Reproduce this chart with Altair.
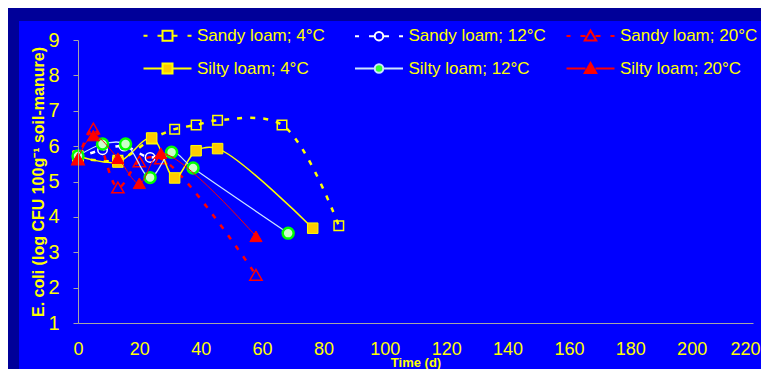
import altair as alt
import pandas as pd

# ---------------- data ----------------
SERIES = ["Sandy loam; 4°C", "Sandy loam; 12°C", "Sandy loam; 20°C",
          "Silty loam; 4°C", "Silty loam; 12°C", "Silty loam; 20°C"]

sandy4_d = [0, 13, 24, 31.5, 38.5, 45.5, 66.5, 85]
sandy4_v = [5.68, 5.6, 6.2, 6.48, 6.6, 6.73, 6.6, 3.75]
sandy12_d = [0, 8, 15, 23.5, 30.5]
sandy12_v = [5.68, 5.9, 6.0, 5.68, 5.85]
sandy20_d = [0, 5, 13, 20, 27, 58]
sandy20_v = [5.62, 6.5, 4.83, 5.57, 5.65, 2.36]
silty4_d = [0, 13, 24, 31.5, 38.5, 45.5, 76.5]
silty4_v = [5.72, 5.55, 6.23, 5.1, 5.87, 5.93, 3.68]
silty12_d = [0, 8, 15.5, 23.5, 30.5, 37.5, 68.5]
silty12_v = [5.72, 6.06, 6.06, 5.11, 5.83, 5.38, 3.54]
silty20_d = [0, 5, 13, 20, 27, 58]
silty20_v = [5.66, 6.3, 5.66, 4.95, 5.8, 3.45]

X_TICKS = [0, 20, 40, 60, 80, 100, 120, 140, 160, 180, 200, 220]
Y_TICKS = [1, 2, 3, 4, 5, 6, 7, 8, 9]

DAYS = [sandy4_d, sandy12_d, sandy20_d, silty4_d, silty12_d, silty20_d]
VALS = [sandy4_v, sandy12_v, sandy20_v, silty4_v, silty12_v, silty20_v]

rows = []
for s, ds, vs in zip(SERIES, DAYS, VALS):
    for d, v in zip(ds, vs):
        rows.append({"series": s, "day": d, "cfu": v})
df = pd.DataFrame(rows)

# ---------------- styles ----------------
YEL = "#FFFF00"
W, H = 675, 283

STYLE = {
    "Sandy loam; 4°C": dict(lc=YEL, lw=2.5, dash=[5, 8], shape="square", size=90,
                            filled=False, fill=None, stroke=YEL, sw=1.5),
    "Sandy loam; 12°C": dict(lc="#FFFFFF", lw=2.5, dash=[5, 8], shape="circle", size=90,
                             filled=False, fill=None, stroke="#FFFFFF", sw=1.5),
    "Sandy loam; 20°C": dict(lc="#FF0000", lw=2.5, dash=[5, 8], shape="triangle-up", size=150,
                             filled=False, fill=None, stroke="#FF0000", sw=1.5),
    "Silty loam; 4°C": dict(lc=YEL, lw=1.5, dash=None, shape="square", size=110,
                            filled=True, fill="#FFCC00", stroke=YEL, sw=1),
    "Silty loam; 12°C": dict(lc="#CCE5FF", lw=1.2, dash=None, shape="circle", size=120,
                             filled=True, fill="#CCFFCC", stroke="#00FF00", sw=2.5),
    "Silty loam; 20°C": dict(lc="#FF0000", lw=1, dash=None, shape="triangle-up", size=150,
                             filled=True, fill="#FF0000", stroke="#FF0000", sw=1),
}

x_enc = alt.X("day:Q",
              scale=alt.Scale(domain=[0, 220], nice=False, zero=False),
              axis=alt.Axis(values=X_TICKS, title="Time (d)", grid=False, ticks=False,
                            domainColor="#A6A6A6", labelColor=YEL, labelFontSize=18,
                            labelFont="Liberation Sans", labelPadding=17, labelFlush=False,
                            labelOffset=alt.expr("datum.value == 220 ? -8 : 0"),
                            titleColor=YEL, titleFont="Liberation Sans", titleFontSize=13,
                            titleFontWeight="bold", titleY=43, titleBaseline="alphabetic",
                            zindex=1))
y_enc = alt.Y("cfu:Q",
              scale=alt.Scale(domain=[1, 9], nice=False, zero=False),
              axis=alt.Axis(values=Y_TICKS, title="E. coli (log CFU 100g⁻¹ soil-manure)",
                            grid=False, domainColor="#A6A6A6", tickColor="#A6A6A6",
                            tickSize=5, labelColor=YEL, labelFontSize=20,
                            labelFont="Liberation Sans", labelPadding=14,
                            titleColor=YEL, titleFont="Liberation Sans", titleFontSize=16,
                            titleFontWeight="bold", titleX=-40, titleY=H / 2,
                            titleAlign="center", titleBaseline="middle", titleAngle=270,
                            zindex=1))

layers = []

bg = alt.Chart(pd.DataFrame({"k": [0]})).mark_rect(color="#0000FF").encode(
    x=alt.value(-59), x2=alt.value(W + 30), y=alt.value(-19), y2=alt.value(H + 60))
layers.append(bg)

for s in SERIES:
    st = STYLE[s]
    base = alt.Chart(df).transform_filter(alt.datum.series == s)
    lkw = dict(color=st["lc"], strokeWidth=st["lw"], interpolate="catmull-rom")
    if st["dash"]:
        lkw["strokeDash"] = st["dash"]
    layers.append(base.mark_line(**lkw).encode(x=x_enc, y=y_enc))
    pkw = dict(shape=st["shape"], size=st["size"], filled=st["filled"], stroke=st["stroke"],
               strokeWidth=st["sw"], opacity=1)
    if st["fill"]:
        pkw["fill"] = st["fill"]
    layers.append(base.mark_point(**pkw).encode(x=x_enc, y=y_enc))

# ---------------- legend (custom symbols: line segment + marker) ----------------
dash_seg = "M-4.8,0H-4M-2,0H-1M1,0H2M4,0H4.8"
solid_seg = "M-4.8,0H-1M1,0H4.8"
sq = "M-1,-1H1V1H-1Z"
ci = "M-0.85,0A0.85,0.85 0 1,0 0.85,0A0.85,0.85 0 1,0 -0.85,0Z"
tri = "M0,-1.1L1.15,0.9H-1.15Z"
PATHS = [dash_seg + sq, dash_seg + ci, dash_seg + tri,
         solid_seg + sq, solid_seg + ci, solid_seg + tri]
L_STROKE = [YEL, "#FFFFFF", "#FF0000", YEL, "#CCE5FF", "#FF0000"]
L_FILL = ["transparent", "transparent", "transparent", "#FFCC00", "#33FF33", "#FF0000"]
L_SW = [2, 2, 2, 1.5, 1.5, 1.2]

legend_layer = alt.Chart(df).transform_filter("false").mark_point(opacity=1).encode(
    shape=alt.Shape("series:N", scale=alt.Scale(domain=SERIES, range=PATHS), title=None),
    stroke=alt.Stroke("series:N", scale=alt.Scale(domain=SERIES, range=L_STROKE), title=None),
    fill=alt.Fill("series:N", scale=alt.Scale(domain=SERIES, range=L_FILL), title=None),
    strokeWidth=alt.StrokeWidth("series:N", scale=alt.Scale(domain=SERIES, range=L_SW), title=None),
)
layers.append(legend_layer)

chart = alt.layer(*layers).properties(
    width=W, height=H,
    background="#000099",
    padding={"left": 70, "top": 32, "right": 8, "bottom": 46},
    autosize=alt.AutoSizeParams(type="none"),
).configure_view(stroke=None).configure_legend(
    orient="none", direction="horizontal", legendX=81, legendY=-13, columns=3, padding=0,
    gridAlign="all", columnPadding=15.5, rowPadding=14, labelFont="Liberation Sans",
    labelFontSize=17, labelColor=YEL, labelOffset=21, symbolSize=100, symbolOpacity=1,
    zindex=1,
)

chart.save("out.html", embed_options={"renderer": "svg", "actions": False})
